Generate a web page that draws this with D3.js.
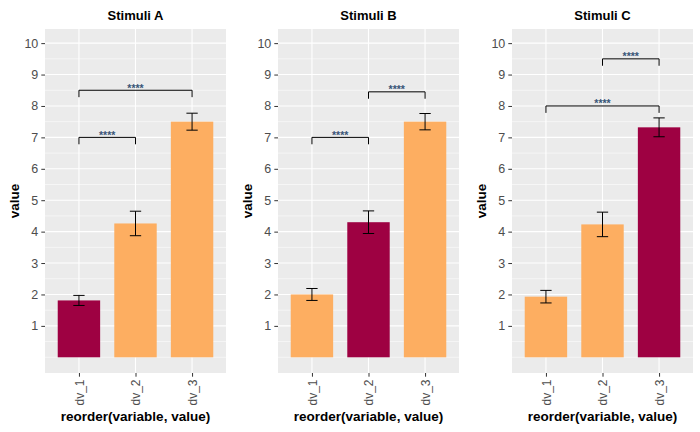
<!DOCTYPE html>
<html>
<head>
<meta charset="utf-8">
<script src="https://cdn.jsdelivr.net/npm/d3@7"></script>
<style>
  html, body { margin: 0; padding: 0; background: #ffffff; }
  svg { display: block; font-family: "Liberation Sans", Arial, sans-serif; }
</style>
</head>
<body>
<svg id="chart" width="700" height="432"></svg>
<script>
// ---- data ----
const categories = ["dv_1", "dv_2", "dv_3"];
const panelTitles = ["Stimuli A", "Stimuli B", "Stimuli C"];
const valuesA = [1.81, 4.26, 7.50];
const errorsA = [0.16, 0.39, 0.27];
const valuesB = [2.00, 4.30, 7.50];
const errorsB = [0.19, 0.36, 0.26];
const valuesC = [1.93, 4.23, 7.32];
const errorsC = [0.20, 0.39, 0.30];
const highlighted = ["dv_1", "dv_2", "dv_3"]; // highlighted bar per panel
const compsA = [["dv_1", "dv_2", 7.0, "****"], ["dv_1", "dv_3", 8.5, "****"]];
const compsB = [["dv_1", "dv_2", 7.0, "****"], ["dv_2", "dv_3", 8.45, "****"]];
const compsC = [["dv_2", "dv_3", 9.5, "****"], ["dv_1", "dv_3", 8.0, "****"]];
const yTicks = [1, 2, 3, 4, 5, 6, 7, 8, 9, 10];
const yMinor = [0, 0.5, 1.5, 2.5, 3.5, 4.5, 5.5, 6.5, 7.5, 8.5, 9.5];
const xTitle = "reorder(variable, value)";
const yTitle = "value";

const panels = [
  { title: panelTitles[0], values: valuesA, errors: errorsA, hl: highlighted[0], comps: compsA },
  { title: panelTitles[1], values: valuesB, errors: errorsB, hl: highlighted[1], comps: compsB },
  { title: panelTitles[2], values: valuesC, errors: errorsC, hl: highlighted[2], comps: compsC }
];

// ---- layout ----
const panelLefts = [45, 278, 512];
const panelW = 181;
const pTop = 29, pBottom = 373;
const colHL = "#9E0142", colOther = "#FDAE61";

const svg = d3.select("#chart");
const y = d3.scaleLinear().domain([-0.5, 10.45]).range([pBottom, pTop]);

panels.forEach((p, i) => {
  const left = panelLefts[i];
  const x = d3.scalePoint().domain(categories).range([left, left + panelW]).padding(0.6);
  const step = x.step();
  const g = svg.append("g");

  // panel background
  g.append("rect").attr("x", left).attr("y", pTop).attr("width", panelW).attr("height", pBottom - pTop)
    .attr("fill", "#EBEBEB");

  // minor grid
  g.selectAll(".ymin").data(yMinor).join("line")
    .attr("x1", left).attr("x2", left + panelW)
    .attr("y1", d => y(d)).attr("y2", d => y(d))
    .attr("stroke", "#fff").attr("stroke-width", 0.55);
  // major grid
  g.selectAll(".ymaj").data(yTicks).join("line")
    .attr("x1", left).attr("x2", left + panelW)
    .attr("y1", d => y(d)).attr("y2", d => y(d))
    .attr("stroke", "#fff").attr("stroke-width", 1.1);
  g.selectAll(".xmaj").data(categories).join("line")
    .attr("x1", d => x(d)).attr("x2", d => x(d))
    .attr("y1", pTop).attr("y2", pBottom)
    .attr("stroke", "#fff").attr("stroke-width", 1.1);

  // bars
  const bw = step * 0.75;
  g.selectAll(".bar").data(categories).join("rect")
    .attr("x", d => x(d) - bw / 2)
    .attr("width", bw)
    .attr("y", (d, j) => y(p.values[j]))
    .attr("height", (d, j) => y(0) - y(p.values[j]))
    .attr("fill", d => d === p.hl ? colHL : colOther);

  // error bars
  const ew = step * 0.2;
  categories.forEach((c, j) => {
    const hi = y(p.values[j] + p.errors[j]), lo = y(p.values[j] - p.errors[j]);
    const cx = x(c);
    g.append("path")
      .attr("d", `M${cx - ew / 2},${hi}H${cx + ew / 2}M${cx},${hi}V${lo}M${cx - ew / 2},${lo}H${cx + ew / 2}`)
      .attr("stroke", "#000").attr("stroke-width", 1).attr("fill", "none");
  });

  // significance brackets
  p.comps.forEach(([a, b, yy, lab]) => {
    const tip = 0.22;
    g.append("path")
      .attr("d", `M${x(a)},${y(yy - tip)}V${y(yy)}H${x(b)}V${y(yy - tip)}`)
      .attr("stroke", "#000").attr("stroke-width", 1).attr("fill", "none");
    g.append("text")
      .attr("x", (x(a) + x(b)) / 2).attr("y", y(yy) + 1.5)
      .attr("text-anchor", "middle")
      .attr("font-size", 10.5).attr("font-weight", "bold").attr("fill", "#3a5578")
      .text(lab);
  });

  // y axis
  const yAxis = d3.axisLeft(y).tickValues(yTicks).tickSize(3.7).tickPadding(3);
  const ya = g.append("g").attr("transform", `translate(${left},0)`).call(yAxis);
  ya.select(".domain").remove();
  ya.selectAll(".tick line").attr("stroke", "#333333");
  ya.selectAll(".tick text").attr("fill", "#4D4D4D").attr("font-size", 12.5)
    .attr("font-family", "Liberation Sans, Arial, sans-serif");

  // x axis
  const xAxis = d3.axisBottom(x).tickSize(3.7).tickPadding(3);
  const xa = g.append("g").attr("transform", `translate(0,${pBottom})`).call(xAxis);
  xa.select(".domain").remove();
  xa.selectAll(".tick line").attr("stroke", "#333333");
  xa.selectAll(".tick text")
    .attr("fill", "#4D4D4D").attr("font-size", 12)
    .attr("font-family", "Liberation Sans, Arial, sans-serif")
    .attr("transform", "rotate(-90)")
    .attr("text-anchor", "end")
    .attr("x", -6.5).attr("y", 0).attr("dy", "0.35em");

  // titles
  g.append("text").attr("x", left + panelW / 2).attr("y", 19.5)
    .attr("text-anchor", "middle").attr("font-size", 13).attr("font-weight", "bold")
    .attr("fill", "#000").text(p.title);
  g.append("text").attr("x", left + panelW / 2).attr("y", 421)
    .attr("text-anchor", "middle").attr("font-size", 13.5).attr("font-weight", "bold")
    .attr("fill", "#000").text(xTitle);
  const yx = left - 26.5;
  g.append("text")
    .attr("transform", `translate(${yx},${(pTop + pBottom) / 2}) rotate(-90)`)
    .attr("text-anchor", "middle").attr("font-size", 13.5).attr("font-weight", "bold")
    .attr("fill", "#000").text(yTitle);
});
</script>
</body>
</html>
